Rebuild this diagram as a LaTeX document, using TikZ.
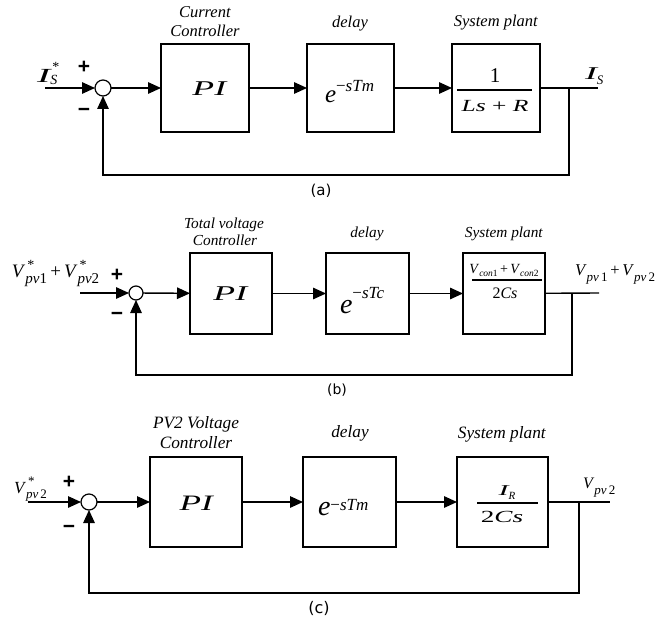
\documentclass[tikz,border=0pt]{standalone}
\usepackage{graphicx}
\usepackage{fontspec}
\setmainfont{Liberation Serif}
\newfontfamily\signfont{Liberation Sans}
\newfontfamily\capfont{DejaVu Sans}
\usetikzlibrary{arrows.meta}
\newcommand{\fs}[1]{\fontsize{#1}{#1}\selectfont}
\newcommand{\hx}[2][1.45]{\scalebox{#1}[1]{#2}}
\newcommand{\subsupr}[4]{\rlap{\raisebox{#1}{#4}}\raisebox{#2}{#3}}
\begin{document}
\begin{tikzpicture}[x=1pt,y=-1pt,
  ln/.style={line width=1.4pt},
  arr/.style={ln,-{Triangle[length=13pt,width=11.5pt]}},
  blk/.style={draw,line width=1.4pt,inner sep=0pt,outer sep=0pt},
  sumc/.style={draw,circle,line width=1.2pt,inner sep=0pt,outer sep=0pt},
  txt/.style={inner sep=0pt,outer sep=0pt},
  sgn/.style={txt,anchor=base,font=\signfont\bfseries\fs{21}},
  capt/.style={txt,font=\capfont\fs{15}},
  bar/.style={line width=1.2pt},
]
\useasboundingbox (0,0) rectangle (660,620);

%%%%%%%%%%%%%%%% (a)
\node[sumc,minimum size=16pt] (suma) at (103,88) {};
\node[blk,minimum width=88pt,minimum height=88pt] (pia) at (205,88) {};
\node[blk,minimum width=87pt,minimum height=88pt] (dla) at (350.5,88) {};
\node[blk,minimum width=88pt,minimum height=88pt] (pla) at (496,88) {};
\coordinate (ina) at (45,88);
\coordinate (outa) at (598,88);
\coordinate (bra) at (569,88);
\coordinate (fba) at (569,175);
\draw[arr] (ina) -- (suma);
\draw[arr] (suma) -- (pia);
\draw[arr] (pia) -- (dla);
\draw[arr] (dla) -- (pla);
\draw[ln] (pla) -- (outa);
\draw[arr] (bra) -- (fba) -| (suma);

\node[txt,anchor=base west] (ina-l) at (37,83) {\fs{20}\textit{\hx[2]{I}}\subsupr{11.5pt}{-1.5pt}{\fs{14}\textit{S}}{\hspace{2pt}\fs{14}*}};
\node[sgn] (plusa) at (84,74) {+};
\node[sgn] (minusa) at (84,117) {−};
\node[txt,anchor=base] (tca1) at (205,18) {\fs{16.5}\textit{Current}};
\node[txt,anchor=base] (tca2) at (205,37) {\fs{16.5}\textit{Controller}};
\node[txt,anchor=base] (tda) at (350,28) {\fs{16.5}\textit{delay}};
\node[txt,anchor=base] (tpa) at (496,27) {\fs{16.5}\textit{System plant}};
\node[txt,anchor=base] (pita) at (210,96) {\fs{21}\hx[1.7]{\textit{PI}}};
\node[txt,anchor=base west] (dta) at (325,103) {\fs{25}\textit{e}\raisebox{11pt}{\fs{17}−\textit{sTm}}};
\node[txt,anchor=base] (numa) at (495,83) {\fs{21}1};
\coordinate (fra1) at (457,90);
\coordinate (fra2) at (532,90);
\draw[bar] (fra1) -- (fra2);
\node[txt,anchor=base] (dena) at (495,112) {\fs{17}\hx[1.5]{\textit{Ls}~+~\textit{R}}};
\node[txt,anchor=base west] (outa-l) at (585,80) {\fs{18}\textit{\hx[2]{I}}\raisebox{-5pt}{\fs{13}\textit{S}}};
\node[capt] (capa) at (321,191) {(a)};

%%%%%%%%%%%%%%%% (b)
\node[sumc,minimum size=14pt] (sumb) at (136,293) {};
\node[blk,minimum width=82pt,minimum height=81pt] (pib) at (231,293.5) {};
\node[blk,minimum width=83pt,minimum height=81pt] (dlb) at (367.5,293.5) {};
\node[blk,minimum width=82pt,minimum height=81pt] (plb) at (504,293.5) {};
\coordinate (inb) at (80,293);
\coordinate (outb) at (599,293);
\coordinate (brb) at (572,293);
\coordinate (fbb) at (572,375);
\draw[arr] (inb) -- (sumb);
\draw[arr] (sumb) -- (pib);
\draw[arr] (pib) -- (dlb);
\draw[arr] (dlb) -- (plb);
\draw[ln] (plb) -- (outb);
\draw[arr] (brb) -- (fbb) -| (sumb);

\node[txt,anchor=base west] (inb-l) at (12,277) {\fs{19}\textit{V}\subsupr{8pt}{-6pt}{\fs{15}\textit{pv}1}{\hspace{2pt}\fs{14}*}\,+\,\textit{V}\subsupr{8pt}{-6pt}{\fs{15}\textit{pv}2}{\hspace{2pt}\fs{14}*}};
\node[sgn] (plusb) at (117,281) {+};
\node[sgn] (minusb) at (117,320) {−};
\node[txt,anchor=base] (tcb1) at (224,228) {\fs{15.3}\textit{Total voltage}};
\node[txt,anchor=base] (tcb2) at (225,245) {\fs{15.3}\textit{Controller}};
\node[txt,anchor=base] (tdb) at (367,237) {\fs{15.3}\textit{delay}};
\node[txt,anchor=base] (tpb) at (504,237) {\fs{15.3}\textit{System plant}};
\node[txt,anchor=base] (pitb) at (231,300) {\fs{21}\hx[1.7]{\textit{PI}}};
\node[txt,anchor=base west] (dtb) at (340,313) {\fs{28}\textit{e}\raisebox{15pt}{\fs{17}−\textit{sTc}}};
\node[txt,anchor=base] (numb) at (504,273) {\fs{14}\textit{V}\raisebox{-3pt}{\fs{9.5}\textit{con}1}\,+\,\textit{V}\raisebox{-3pt}{\fs{9.5}\textit{con}2}};
\coordinate (frb1) at (472,280);
\coordinate (frb2) at (542,280);
\draw[bar] (frb1) -- (frb2);
\node[txt,anchor=base] (denb) at (505,298) {\fs{16}2\textit{Cs}};
\node[txt,anchor=base west] (outb-l) at (575,275) {\fs{16.5}\textit{V}\raisebox{-6pt}{\fs{13}\textit{pv}\,1}\,+\,\textit{V}\raisebox{-6pt}{\fs{13}\textit{pv}\,2}};
\node[capt,font=\capfont\fs{14}] (capb) at (337,390) {(b)};

%%%%%%%%%%%%%%%% (c)
\node[sumc,minimum size=16pt] (sumc) at (89,502) {};
\node[blk,minimum width=92pt,minimum height=90pt] (pic) at (196,502) {};
\node[blk,minimum width=93pt,minimum height=90pt] (dlc) at (349.5,502) {};
\node[blk,minimum width=91pt,minimum height=90pt] (plc) at (502.5,502) {};
\coordinate (inc) at (28,502);
\coordinate (outc) at (610,502);
\coordinate (brc) at (579,502);
\coordinate (fbc) at (579,593);
\draw[arr] (inc) -- (sumc);
\draw[arr] (sumc) -- (pic);
\draw[arr] (pic) -- (dlc);
\draw[arr] (dlc) -- (plc);
\draw[ln] (plc) -- (outc);
\draw[arr] (brc) -- (fbc) -| (sumc);

\node[txt,anchor=base west] (inc-l) at (14,493) {\fs{17}\textit{V}\subsupr{7.5pt}{-5pt}{\fs{13}\textit{pv}\,2}{\hspace{2pt}\fs{13}*}};
\node[sgn] (plusc) at (69,488) {+};
\node[sgn] (minusc) at (69,533) {−};
\node[txt,anchor=base] (tcc1) at (196,428) {\fs{17.3}\textit{PV2 Voltage}};
\node[txt,anchor=base] (tcc2) at (196,448) {\fs{17.3}\textit{Controller}};
\node[txt,anchor=base] (tdc) at (350,437) {\fs{17.3}\textit{delay}};
\node[txt,anchor=base] (tpc) at (502,438) {\fs{17.3}\textit{System plant}};
\node[txt,anchor=base] (pitc) at (197,510) {\fs{22}\hx[1.6]{\textit{PI}}};
\node[txt,anchor=base west] (dtc) at (318,515) {\fs{28}\textit{e}\raisebox{5pt}{\fs{17}−\textit{sTm}}};
\node[txt,anchor=base] (numc) at (507,495) {\fs{15}\textit{\hx[2]{I}}\raisebox{-4pt}{\fs{11}\textit{R}}};
\coordinate (frc1) at (477,503);
\coordinate (frc2) at (538,503);
\draw[bar] (frc1) -- (frc2);
\node[txt,anchor=base] (denc) at (502,522) {\fs{17}\hx[1.6]{2\textit{Cs}}};
\node[txt,anchor=base west] (outc-l) at (583,488) {\fs{16}\textit{V}\raisebox{-6pt}{\fs{13}\textit{pv}\,2}};
\node[capt,font=\capfont\fs{16}] (capc) at (319,608) {(c)};
\end{tikzpicture}
\end{document}
